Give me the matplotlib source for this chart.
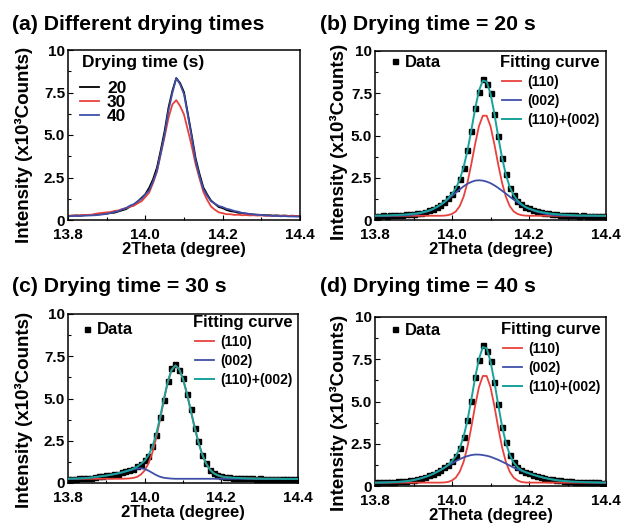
import matplotlib
matplotlib.use("Agg")
import matplotlib.pyplot as plt
from matplotlib.ticker import FixedLocator, MultipleLocator, FuncFormatter
from matplotlib.lines import Line2D

plt.rcParams['font.family'] = ['Liberation Sans', 'DejaVu Sans']
plt.rcParams['font.weight'] = 'bold'

# ---------------- data ----------------
two_theta = [13.80, 13.81, 13.82, 13.83, 13.84, 13.85, 13.86, 13.87, 13.88, 13.89,
             13.90, 13.91, 13.92, 13.93, 13.94, 13.95, 13.96, 13.97, 13.98, 13.99,
             14.00, 14.01, 14.02, 14.03, 14.04, 14.05, 14.06, 14.07, 14.08, 14.09,
             14.10, 14.11, 14.12, 14.13, 14.14, 14.15, 14.16, 14.17, 14.18, 14.19,
             14.20, 14.21, 14.22, 14.23, 14.24, 14.25, 14.26, 14.27, 14.28, 14.29,
             14.30, 14.31, 14.32, 14.33, 14.34, 14.35, 14.36, 14.37, 14.38, 14.39, 14.40]

# measured intensities (x10^3 counts)
data_20 = [0.24, 0.25, 0.27, 0.26, 0.28, 0.30, 0.29, 0.31, 0.34, 0.35,
           0.38, 0.41, 0.43, 0.50, 0.57, 0.64, 0.78, 0.88, 1.08, 1.30,
           1.52, 1.90, 2.40, 3.08, 4.12, 5.25, 6.62, 7.60, 8.35, 8.05,
           7.52, 6.25, 4.98, 3.64, 2.72, 1.92, 1.50, 1.14, 0.95, 0.76,
           0.70, 0.59, 0.52, 0.49, 0.43, 0.41, 0.36, 0.35, 0.32, 0.31,
           0.30, 0.28, 0.28, 0.26, 0.27, 0.25, 0.26, 0.24, 0.25, 0.23, 0.24]
data_30 = [0.24, 0.26, 0.25, 0.27, 0.29, 0.30, 0.31, 0.36, 0.40, 0.42,
           0.45, 0.47, 0.53, 0.56, 0.64, 0.70, 0.78, 0.84, 0.98, 1.10,
           1.35, 1.62, 2.18, 2.85, 3.90, 4.92, 6.02, 6.80, 7.05, 6.70,
           6.20, 5.28, 4.35, 3.28, 2.46, 1.66, 1.18, 0.79, 0.60, 0.45,
           0.40, 0.34, 0.34, 0.30, 0.31, 0.28, 0.29, 0.27, 0.28, 0.26,
           0.27, 0.25, 0.26, 0.25, 0.25, 0.24, 0.25, 0.24, 0.24, 0.23, 0.24]
data_40 = [0.22, 0.23, 0.24, 0.23, 0.25, 0.26, 0.27, 0.28, 0.30, 0.33,
           0.36, 0.41, 0.47, 0.52, 0.63, 0.70, 0.84, 0.93, 1.10, 1.24,
           1.50, 1.75, 2.26, 2.88, 3.92, 5.05, 6.45, 7.48, 8.35, 7.98,
           7.40, 6.15, 4.85, 3.50, 2.58, 1.82, 1.42, 1.10, 0.96, 0.82,
           0.76, 0.66, 0.61, 0.53, 0.49, 0.42, 0.40, 0.35, 0.33, 0.30,
           0.29, 0.27, 0.26, 0.24, 0.24, 0.22, 0.23, 0.21, 0.21, 0.20, 0.20]

# fitted components, 20 s
fit110_20 = [0.25, 0.25, 0.25, 0.25, 0.25, 0.25, 0.25, 0.25, 0.25, 0.25,
             0.25, 0.25, 0.25, 0.25, 0.25, 0.25, 0.25, 0.25, 0.26, 0.29,
             0.36, 0.51, 0.82, 1.37, 2.20, 3.29, 4.49, 5.55, 6.17, 6.17,
             5.55, 4.49, 3.29, 2.20, 1.37, 0.82, 0.51, 0.36, 0.29, 0.26,
             0.25, 0.25, 0.25, 0.25, 0.25, 0.25, 0.25, 0.25, 0.25, 0.25,
             0.25, 0.25, 0.25, 0.25, 0.25, 0.25, 0.25, 0.25, 0.25, 0.25, 0.25]
fit002_20 = [0.25, 0.25, 0.25, 0.25, 0.25, 0.26, 0.26, 0.27, 0.28, 0.30,
             0.32, 0.35, 0.40, 0.46, 0.53, 0.63, 0.75, 0.89, 1.05, 1.24,
             1.43, 1.62, 1.81, 1.99, 2.14, 2.25, 2.33, 2.35, 2.33, 2.27,
             2.18, 2.05, 1.90, 1.73, 1.56, 1.38, 1.21, 1.05, 0.90, 0.77,
             0.66, 0.57, 0.49, 0.43, 0.38, 0.34, 0.31, 0.29, 0.28, 0.27,
             0.26, 0.26, 0.25, 0.25, 0.25, 0.25, 0.25, 0.25, 0.25, 0.25, 0.25]
fitsum_20 = [0.25, 0.26, 0.26, 0.27, 0.28, 0.29, 0.30, 0.31, 0.33, 0.35,
             0.37, 0.40, 0.44, 0.50, 0.56, 0.65, 0.76, 0.90, 1.06, 1.28,
             1.54, 1.88, 2.38, 3.11, 4.09, 5.29, 6.57, 7.65, 8.25, 8.19,
             7.48, 6.29, 4.94, 3.68, 2.68, 1.95, 1.47, 1.16, 0.94, 0.78,
             0.68, 0.60, 0.53, 0.48, 0.44, 0.40, 0.37, 0.35, 0.33, 0.31,
             0.30, 0.29, 0.28, 0.27, 0.27, 0.26, 0.26, 0.26, 0.25, 0.25, 0.25]

# fitted components, 30 s
fit110_30 = [0.25, 0.25, 0.25, 0.25, 0.25, 0.25, 0.25, 0.25, 0.25, 0.25,
             0.25, 0.25, 0.25, 0.25, 0.25, 0.26, 0.27, 0.30, 0.36, 0.50,
             0.74, 1.16, 1.79, 2.66, 3.74, 4.89, 5.94, 6.68, 6.95, 6.74,
             6.16, 5.31, 4.32, 3.32, 2.43, 1.70, 1.16, 0.80, 0.58, 0.46,
             0.39, 0.35, 0.33, 0.31, 0.30, 0.29, 0.28, 0.27, 0.27, 0.26,
             0.26, 0.25, 0.25, 0.25, 0.25, 0.25, 0.24, 0.24, 0.24, 0.24, 0.24]
fit002_30 = [0.25, 0.25, 0.26, 0.27, 0.28, 0.30, 0.32, 0.35, 0.38, 0.41,
             0.44, 0.48, 0.52, 0.57, 0.62, 0.68, 0.74, 0.80, 0.85, 0.87,
             0.83, 0.73, 0.60, 0.47, 0.37, 0.31, 0.28, 0.26, 0.25, 0.25,
             0.25, 0.25, 0.25, 0.25, 0.25, 0.25, 0.25, 0.25, 0.25, 0.25,
             0.25, 0.25, 0.25, 0.25, 0.25, 0.25, 0.25, 0.25, 0.25, 0.25,
             0.25, 0.25, 0.25, 0.25, 0.25, 0.25, 0.25, 0.25, 0.25, 0.25, 0.25]
fitsum_30 = [0.25, 0.26, 0.26, 0.27, 0.28, 0.30, 0.32, 0.35, 0.38, 0.41,
             0.44, 0.48, 0.52, 0.57, 0.62, 0.69, 0.76, 0.85, 0.96, 1.12,
             1.32, 1.64, 2.14, 2.88, 3.86, 4.95, 5.97, 6.69, 6.95, 6.74,
             6.16, 5.31, 4.32, 3.32, 2.43, 1.70, 1.16, 0.80, 0.58, 0.46,
             0.39, 0.35, 0.33, 0.31, 0.30, 0.29, 0.28, 0.27, 0.27, 0.26,
             0.26, 0.25, 0.25, 0.25, 0.25, 0.25, 0.24, 0.24, 0.24, 0.24, 0.24]

# fitted components, 40 s
fit110_40 = [0.20, 0.20, 0.20, 0.20, 0.20, 0.20, 0.20, 0.20, 0.20, 0.20,
             0.20, 0.20, 0.20, 0.20, 0.20, 0.20, 0.20, 0.20, 0.21, 0.24,
             0.33, 0.50, 0.84, 1.42, 2.30, 3.46, 4.74, 5.85, 6.51, 6.51,
             5.85, 4.74, 3.46, 2.30, 1.42, 0.84, 0.50, 0.33, 0.24, 0.21,
             0.20, 0.20, 0.20, 0.20, 0.20, 0.20, 0.20, 0.20, 0.20, 0.20,
             0.20, 0.20, 0.20, 0.20, 0.20, 0.20, 0.20, 0.20, 0.20, 0.20, 0.20]
fit002_40 = [0.20, 0.20, 0.21, 0.21, 0.22, 0.23, 0.24, 0.26, 0.28, 0.31,
             0.35, 0.40, 0.46, 0.53, 0.61, 0.71, 0.82, 0.94, 1.07, 1.21,
             1.34, 1.47, 1.59, 1.69, 1.77, 1.83, 1.86, 1.86, 1.83, 1.79,
             1.73, 1.64, 1.55, 1.44, 1.33, 1.21, 1.09, 0.99, 0.90, 0.82,
             0.75, 0.67, 0.60, 0.54, 0.48, 0.43, 0.39, 0.35, 0.32, 0.30,
             0.28, 0.26, 0.25, 0.24, 0.23, 0.22, 0.22, 0.21, 0.21, 0.20, 0.20]
fitsum_40 = [0.20, 0.20, 0.21, 0.21, 0.22, 0.23, 0.24, 0.26, 0.28, 0.31,
             0.35, 0.40, 0.46, 0.53, 0.61, 0.71, 0.82, 0.94, 1.08, 1.25,
             1.47, 1.77, 2.23, 2.91, 3.87, 5.09, 6.40, 7.51, 8.22, 8.15,
             7.38, 6.18, 4.81, 3.54, 2.55, 1.85, 1.39, 1.12, 0.94, 0.83,
             0.75, 0.67, 0.60, 0.54, 0.48, 0.43, 0.39, 0.35, 0.32, 0.30,
             0.28, 0.26, 0.25, 0.24, 0.23, 0.22, 0.22, 0.21, 0.21, 0.20, 0.20]

drying_times = ['20', '30', '40']
fit_labels = ['(110)', '(002)', '(110)+(002)']
x_ticks = [13.8, 14.0, 14.2, 14.4]
y_ticks = [0, 2.5, 5.0, 7.5, 10]
titles = ['(a) Different drying times', '(b) Drying time = 20 s',
          '(c) Drying time = 30 s', '(d) Drying time = 40 s']

# ---------------- style ----------------
RED = '#e8413c'
BLUE = '#3f4fa8'
TEAL = '#17a29a'
W, H = 626, 529

fig = plt.figure(figsize=(W / 100, H / 100), dpi=100)


def add_axes_px(left, top, right, bottom):
    return fig.add_axes([left / W, 1 - bottom / H, (right - left) / W, (bottom - top) / H])


def ytick_fmt(v, pos):
    if abs(v) < 1e-9:
        return '0'
    if abs(v - 10) < 1e-9:
        return '10'
    return '%.1f' % v


def style_axes(ax, ylab_x, ylab_y):
    ax.set_xlim(13.8, 14.4)
    ax.set_ylim(0, 10)
    ax.xaxis.set_major_locator(FixedLocator(x_ticks))
    ax.xaxis.set_minor_locator(MultipleLocator(0.1))
    ax.yaxis.set_major_locator(FixedLocator(y_ticks))
    ax.yaxis.set_minor_locator(MultipleLocator(1.25))
    ax.xaxis.set_major_formatter(FuncFormatter(lambda v, p: '%.1f' % v))
    ax.yaxis.set_major_formatter(FuncFormatter(ytick_fmt))
    ax.tick_params(which='both', direction='in', width=0.8, labelsize=11)
    ax.tick_params(which='major', length=3.5)
    ax.tick_params(which='minor', length=2)
    ax.tick_params(axis='y', pad=2)
    ax.tick_params(axis='x', pad=5.5)
    for s in ax.spines.values():
        s.set_linewidth(1.1)
    ax.set_xlabel('2Theta (degree)', fontsize=12, fontweight='bold', labelpad=0.5)
    ax.set_ylabel('Intensity (x10\u00b3Counts)', fontsize=13.5, fontweight='bold')
    ax.yaxis.set_label_coords(ylab_x, ylab_y)


axA = add_axes_px(68, 50, 300, 220)
axB = add_axes_px(375, 51, 606, 220)
axC = add_axes_px(68, 314, 298, 483)
axD = add_axes_px(375, 317, 606, 486)

# panel (a)
lines = []
for series, col in zip([data_20, data_30, data_40], ['black', RED, BLUE]):
    ln, = axA.plot(two_theta, series, color=col, lw=1.3)
    lines.append(ln)
style_axes(axA, -0.15, 0.44)
axA.text(0.06, 0.924, 'Drying time (s)', transform=axA.transAxes, fontsize=12.5,
         fontweight='bold', va='center', ha='left')
axA.legend(lines, drying_times, loc='upper left', bbox_to_anchor=(0.052, 0.82),
           frameon=False, borderpad=0, borderaxespad=0, handlelength=1.09,
           handletextpad=0.46, labelspacing=-0.06, prop={'size': 12.5, 'weight': 'bold'})


def fit_panel(ax, data, f110, f002, fsum, ylab_x, ylab_y, data_anchor, fit_anchor):
    ax.plot(two_theta, data, ls='none', marker='s', ms=3.6, color='black', zorder=2)
    l1, = ax.plot(two_theta, f110, color=RED, lw=1.3, zorder=3)
    l2, = ax.plot(two_theta, f002, color=BLUE, lw=1.3, zorder=3)
    l3, = ax.plot(two_theta, fsum, color=TEAL, lw=1.4, zorder=4)
    style_axes(ax, ylab_x, ylab_y)
    h = Line2D([], [], ls='none', marker='s', ms=3.6, color='black')
    leg1 = ax.legend([h], ['Data'], loc='upper left', bbox_to_anchor=data_anchor,
                     frameon=False, borderpad=0, borderaxespad=0, handlelength=0.5,
                     handletextpad=0.36, prop={'size': 12, 'weight': 'bold'})
    ax.add_artist(leg1)
    ax.legend([l1, l2, l3], fit_labels, loc='upper right', bbox_to_anchor=fit_anchor,
              frameon=False, borderpad=0, borderaxespad=0, handlelength=1.37,
              handletextpad=0.5, labelspacing=0.36, title='Fitting curve',
              title_fontproperties={'size': 12, 'weight': 'bold'}, alignment='right',
              prop={'size': 10, 'weight': 'bold'})


fit_panel(axB, data_20, fit110_20, fit002_20, fitsum_20, -0.118, 0.464,
          (0.069, 0.979), (0.974, 0.979))
fit_panel(axC, data_30, fit110_30, fit002_30, fitsum_30, -0.15, 0.432,
          (0.065, 0.95), (0.978, 0.997))
fit_panel(axD, data_40, fit110_40, fit002_40, fitsum_40, -0.118, 0.432,
          (0.069, 0.967), (0.978, 0.973))

# panel titles
for t, (xp, yp) in zip(titles, [(12, 30), (320, 30), (12, 292), (320, 292)]):
    fig.text(xp / W, 1 - yp / H, t, fontsize=15.3, fontweight='bold', ha='left', va='baseline')

fig.savefig('out.png', dpi=100)
